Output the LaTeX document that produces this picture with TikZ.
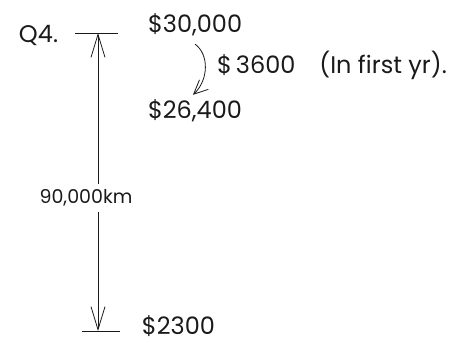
\documentclass[tikz,border=0pt]{standalone}
\usepackage{fontspec}
\setmainfont{Poppins}
\usetikzlibrary{arrows.meta,positioning,calc}
\definecolor{ink}{HTML}{1A1A1A}
\newcommand{\hand}{\fontsize{24}{26}\selectfont}

\begin{document}
\begin{tikzpicture}[
  x=1pt, y=-1pt,
  every node/.style={inner sep=0pt, outer sep=0pt, text=ink, font=\hand},
  tick/.style={line width=0.8pt, draw=ink},
  span/.style={-{Straight Barb[length=23pt,width=14pt,line width=0.8pt]},
               line width=0.8pt, draw=ink},
  turn/.style={-{Straight Barb[length=14pt,width=13pt,line width=0.8pt]},
               line width=0.8pt, draw=ink},
]
\useasboundingbox (0,0) rectangle (451,343);

% ---------------------------------------------------------------- geometry
\def\xa{98}    % time line
\def\ya{33}    % top tick
\def\yb{331}   % bottom tick

\coordinate (top) at (\xa,\ya);
\coordinate (bot) at (\xa,\yb);

% ---------------------------------------------------------------- labels
\node[anchor=west] (q) at (19,35) {Q4.};

\node[anchor=west] (p0) at (148,25) {\$30,000};
\node[anchor=west] (p1) at (148,111) {\$26,400};
\node[anchor=west] (pe) at (142,326) {\$2300};
\node[anchor=west] (dep) at (217,65) {\$\,3600\quad(In first yr).};

\node[inner sep=6pt, font=\fontsize{19}{22}\selectfont]
     (dist) at (86,198) {90,000km};

% ---------------------------------------------------------------- ticks
\draw[tick] ($(top)+(-23,0)$) -- ($(top)+(20,0)$);
\draw[tick] ($(bot)+(-16,0)$) -- ($(bot)+(22,0)$);

% ---------------------------------------------------------------- flow
\draw[span] (top |- dist.north) -- (top);
\draw[span] (top |- dist.south) -- (bot);

\draw[turn] ($(p0.south)+(0,8)$)
  .. controls ($(p0.south)+(14,18)$) and ($(p1.north)+(14,-20)$)
  .. ($(p1.north)+(-2,-5)$);

\end{tikzpicture}
\end{document}
